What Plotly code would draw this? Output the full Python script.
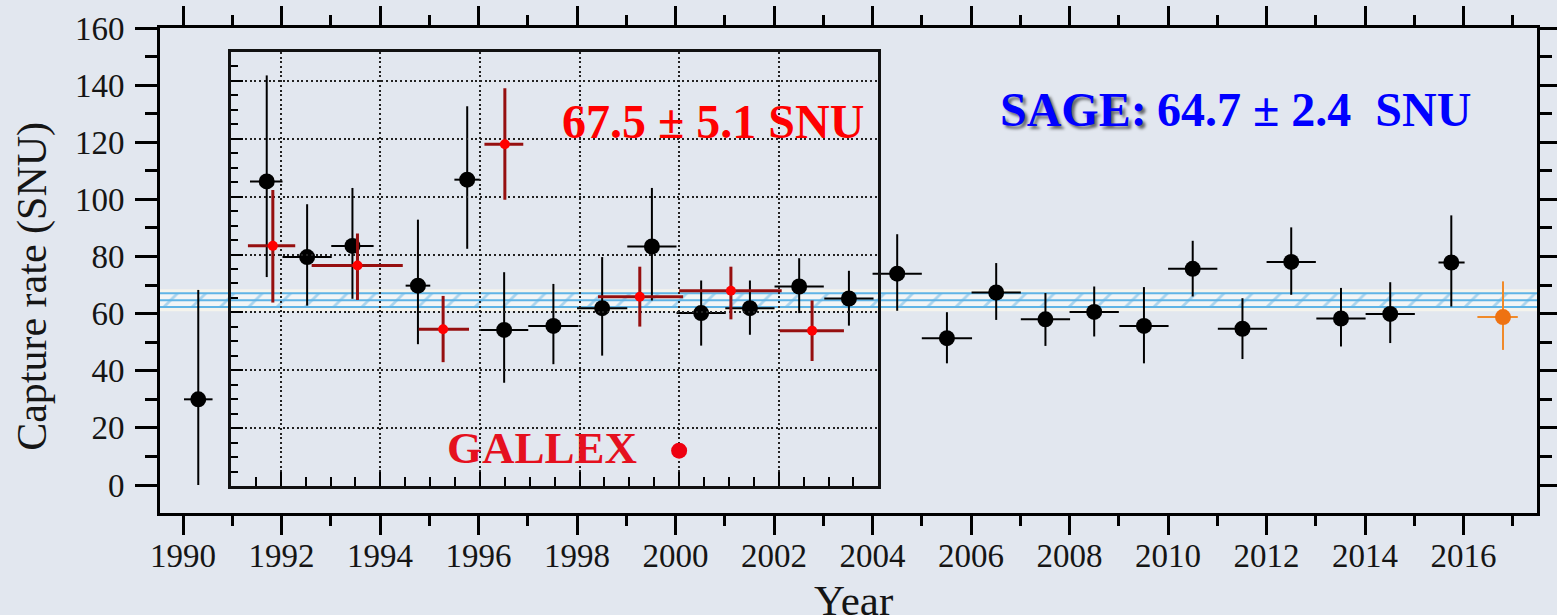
import plotly.graph_objects as go

# ---------------- data ----------------
# SAGE (black) – main axes
sage_year = [1990.31, 1991.70, 1992.52, 1993.44, 1994.77, 1995.77, 1996.52, 1997.52, 1998.51,
             1999.52, 2000.52, 2001.51, 2002.51, 2003.52, 2004.50, 2005.51, 2006.51, 2007.51,
             2008.50, 2009.51, 2010.50, 2011.51, 2012.50, 2013.51, 2014.51, 2015.75]
sage_rate = [30.0, 106.3, 79.8, 83.7, 69.8, 106.9, 54.3, 55.7, 61.9,
             83.5, 60.2, 61.9, 69.5, 65.3, 74.0, 51.4, 67.4, 58.0,
             60.6, 55.7, 75.7, 54.7, 78.1, 58.3, 59.9, 77.9]
sage_err_up = [38.3, 37.1, 18.5, 20.3, 23.1, 25.7, 20.2, 14.7, 17.9,
               20.5, 11.4, 9.7, 9.9, 9.7, 13.8, 9.1, 10.3, 9.2,
               8.9, 13.6, 9.8, 10.7, 12.1, 10.7, 11.1, 16.5]
sage_err_down = [30.0, 33.5, 17.0, 18.5, 20.5, 24.2, 18.5, 13.4, 16.6,
                 18.9, 11.4, 9.3, 9.3, 9.5, 13.0, 8.8, 9.6, 9.3,
                 8.6, 13.1, 9.7, 10.6, 11.5, 9.8, 10.2, 15.4]
sage_dt_left = [0.29, 0.34, 0.50, 0.43, 0.25, 0.26, 0.49, 0.51, 0.51,
                0.50, 0.50, 0.50, 0.50, 0.50, 0.50, 0.51, 0.50, 0.50,
                0.50, 0.50, 0.50, 0.50, 0.50, 0.50, 0.50, 0.26]
sage_dt_right = [0.29, 0.32, 0.50, 0.43, 0.25, 0.26, 0.49, 0.51, 0.51,
                 0.50, 0.50, 0.50, 0.50, 0.50, 0.50, 0.51, 0.50, 0.50,
                 0.50, 0.50, 0.50, 0.50, 0.50, 0.50, 0.50, 0.27]

# latest SAGE run (orange)
new_year = [2016.80]
new_rate = [58.8]
new_err_up = [12.5]
new_err_down = [11.5]
new_dt_left = [0.52]
new_dt_right = [0.30]

# GALLEX/GNO (red) – inset axes
gallex_year = [1991.84, 1993.54, 1995.26, 1996.50, 1999.21, 2001.04, 2002.67]
gallex_rate = [83.0, 76.2, 54.2, 118.1, 65.4, 67.5, 53.7]
gallex_err_up = [19.3, 11.1, 11.5, 19.4, 10.4, 8.3, 10.4]
gallex_err_down = [19.6, 11.9, 11.4, 19.2, 10.3, 9.9, 10.5]
gallex_dt_left = [0.50, 0.92, 0.49, 0.41, 0.84, 1.04, 0.65]
gallex_dt_right = [0.45, 0.91, 0.52, 0.37, 0.87, 1.02, 0.64]
gallex_key_year = [2000.0]
gallex_key_rate = [12.2]

# SAGE combined result band
band_center = 64.7
band_half = 2.4

# axes
main_x_range = [1989.533, 2017.49]
main_y_range = [-9.8, 160]
inset_x_range = [1991.0, 2004.0]
inset_y_range = [0, 150]

# ---------------- style ----------------
SERIF = "Liberation Serif, Times New Roman, serif"
BG = "#e2e7ef"
BLUE_BAND = "#5fb4e6"
DARK_RED = "#960f0f"

fig = go.Figure()

# band halo
fig.add_trace(go.Scatter(x=main_x_range, y=[band_center, band_center], mode="lines",
                         line=dict(color="rgba(250,248,236,0.8)", width=22),
                         xaxis="x", yaxis="y", hoverinfo="skip", showlegend=False))
# band lower edge
fig.add_trace(go.Scatter(x=main_x_range, y=[band_center - band_half] * 2, mode="lines",
                         line=dict(color=BLUE_BAND, width=2),
                         xaxis="x", yaxis="y", hoverinfo="skip", showlegend=False))
# band upper edge with hatched fill
fig.add_trace(go.Scatter(x=main_x_range, y=[band_center + band_half] * 2, mode="lines",
                         line=dict(color=BLUE_BAND, width=2), fill="tonexty",
                         fillcolor="rgba(242,246,248,0.9)",
                         fillpattern=dict(shape="/", fgcolor=BLUE_BAND, bgcolor="rgba(242,246,248,0.9)",
                                          size=20, solidity=0.14),
                         xaxis="x", yaxis="y", hoverinfo="skip", showlegend=False))
# band middle line
fig.add_trace(go.Scatter(x=main_x_range, y=[band_center, band_center], mode="lines",
                         line=dict(color=BLUE_BAND, width=2),
                         xaxis="x", yaxis="y", hoverinfo="skip", showlegend=False))

# SAGE points
fig.add_trace(go.Scatter(
    x=sage_year, y=sage_rate, mode="markers", xaxis="x", yaxis="y", showlegend=False,
    marker=dict(size=16, color="black"),
    error_y=dict(type="data", symmetric=False, array=sage_err_up, arrayminus=sage_err_down,
                 color="black", thickness=2, width=0),
    error_x=dict(type="data", symmetric=False, array=sage_dt_right, arrayminus=sage_dt_left,
                 color="black", thickness=2, width=0)))

# latest point (orange)
fig.add_trace(go.Scatter(
    x=new_year, y=new_rate, mode="markers", xaxis="x", yaxis="y", showlegend=False,
    marker=dict(size=16, color="#ee7212"),
    error_y=dict(type="data", symmetric=False, array=new_err_up, arrayminus=new_err_down,
                 color="#f08a2a", thickness=2, width=0),
    error_x=dict(type="data", symmetric=False, array=new_dt_right, arrayminus=new_dt_left,
                 color="#f08a2a", thickness=2, width=0)))

# GALLEX points (inset)
fig.add_trace(go.Scatter(
    x=gallex_year, y=gallex_rate, mode="markers", xaxis="x2", yaxis="y2", showlegend=False,
    marker=dict(size=10, color="#ff0000"),
    error_y=dict(type="data", symmetric=False, array=gallex_err_up, arrayminus=gallex_err_down,
                 color=DARK_RED, thickness=3, width=0),
    error_x=dict(type="data", symmetric=False, array=gallex_dt_right, arrayminus=gallex_dt_left,
                 color=DARK_RED, thickness=3, width=0)))
fig.add_trace(go.Scatter(
    x=gallex_key_year, y=gallex_key_rate, mode="markers", xaxis="x2", yaxis="y2", showlegend=False,
    marker=dict(size=16, color="#ee0010")))

tickfont = dict(family=SERIF, size=33, color="#151515")

fig.update_layout(
    width=1557, height=615, autosize=False,
    paper_bgcolor=BG, plot_bgcolor="rgba(0,0,0,0)",
    margin=dict(l=160, r=20, t=28, b=102, autoexpand=False),
    showlegend=False,
    xaxis=dict(range=main_x_range, domain=[0, 1], anchor="y", automargin=False,
               tick0=1990, dtick=2, ticks="outside", ticklen=19, tickwidth=3, tickcolor="black",
               showline=True, linewidth=3, linecolor="black", mirror="ticks",
               minor=dict(dtick=1, ticks="outside", ticklen=10, tickwidth=3, tickcolor="black"),
               showgrid=False, zeroline=False, tickfont=tickfont, ticklabelstandoff=-8),
    yaxis=dict(range=main_y_range, domain=[0, 1], anchor="x", automargin=False,
               tick0=0, dtick=20, ticks="outside", ticklen=22, tickwidth=3, tickcolor="black",
               showline=True, linewidth=3, linecolor="black", mirror="ticks",
               minor=dict(dtick=10, ticks="outside", ticklen=12, tickwidth=3, tickcolor="black"),
               showgrid=False, zeroline=False, tickfont=tickfont, ticklabelstandoff=4),
    xaxis2=dict(range=inset_x_range, domain=[0.05156, 0.52164], anchor="y2", automargin=False,
                tick0=1992, dtick=2, ticks="inside", ticklen=14, tickwidth=2, tickcolor="black",
                showline=True, linewidth=2.5, linecolor="#111", mirror=True,
                minor=dict(dtick=0.5, ticks="inside", ticklen=9, tickwidth=2, tickcolor="black"),
                showgrid=True, gridcolor="#222", gridwidth=2, griddash="2px,2.7px",
                zeroline=False, showticklabels=False),
    yaxis2=dict(range=inset_y_range, domain=[0.05567, 0.95052], anchor="x2", automargin=False,
                tick0=0, dtick=20, ticks="inside", ticklen=12, tickwidth=2, tickcolor="black",
                showline=True, linewidth=2.5, linecolor="#111", mirror=True,
                minor=dict(dtick=5, ticks="inside", ticklen=7, tickwidth=2, tickcolor="black"),
                showgrid=True, gridcolor="#222", gridwidth=2, griddash="2px,2.7px",
                zeroline=False, showticklabels=False),
    annotations=[
        dict(text="67.5 ± 5.1 SNU", xref="x2", yref="y2", x=2000.68, y=125.9,
             xanchor="center", yanchor="middle", showarrow=False,
             font=dict(family=SERIF, size=48, color="#ff0000", weight=700)),
        dict(text="GALLEX", xref="x2", yref="y2", x=1997.24, y=13.0,
             xanchor="center", yanchor="middle", showarrow=False,
             font=dict(family=SERIF, size=45, color="#e5101e", weight=700)),
        dict(text="SAGE:", xref="x", yref="y", x=2006.55, y=131.4,
             xanchor="left", yanchor="middle", showarrow=False,
             font=dict(family=SERIF, size=48, color="#0000ff", weight=700,
                       shadow="3px 3px 3px rgba(0,0,0,0.55)")),
        dict(text="64.7 ± 2.4\u00a0 SNU", xref="x", yref="y", x=2009.74, y=131.4,
             xanchor="left", yanchor="middle", showarrow=False,
             font=dict(family=SERIF, size=48, color="#0000ff", weight=700)),
        dict(text="Capture rate (SNU)", xref="paper", yref="y", x=-0.0926, y=69.55,
             xanchor="center", yanchor="middle", textangle=-90, showarrow=False,
             font=dict(family=SERIF, size=42, color="#151515")),
        dict(text="Year", xref="x", yref="paper", x=2003.62, y=-0.1794,
             xanchor="center", yanchor="middle", showarrow=False,
             font=dict(family=SERIF, size=43, color="#151515")),
    ],
)

fig.write_html("out.html")
